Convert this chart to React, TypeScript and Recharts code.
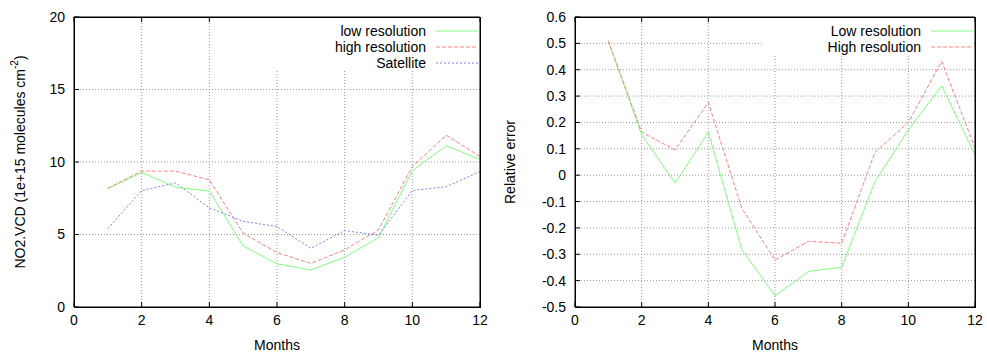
import { LineChart, Line, XAxis, YAxis, CartesianGrid, Legend } from 'recharts';

const months = [1, 2, 3, 4, 5, 6, 7, 8, 9, 10, 11, 12];

// left panel: NO2 VCD
const vcdLow = [8.17, 9.28, 8.26, 7.99, 4.21, 2.97, 2.55, 3.43, 4.79, 9.41, 11.12, 10.17];
const vcdHigh = [8.19, 9.37, 9.37, 8.77, 5.09, 3.75, 3.01, 3.94, 5.32, 9.69, 11.85, 10.38];
const vcdSat = [5.41, 8.03, 8.56, 6.84, 5.91, 5.55, 4.05, 5.27, 4.95, 8.03, 8.29, 9.34];

// right panel: relative error
const errLow = [0.508, 0.153, -0.03, 0.163, -0.281, -0.458, -0.365, -0.349, -0.024, 0.172, 0.339, 0.077];
const errHigh = [0.51, 0.163, 0.096, 0.276, -0.125, -0.322, -0.251, -0.258, 0.087, 0.2, 0.432, 0.103];

const xTicks = [0, 2, 4, 6, 8, 10, 12];
const vcdTicks = [0, 5, 10, 15, 20];
const errTicks = [-0.5, -0.4, -0.3, -0.2, -0.1, 0, 0.1, 0.2, 0.3, 0.4, 0.5, 0.6];
const xGrid = [2, 4, 6, 8, 10];
const vcdGrid = [5, 10, 15];
const errGrid = [-0.4, -0.3, -0.2, -0.1, 0, 0.1, 0.2, 0.3, 0.4, 0.5];

const seriesOrder = ['low resolution', 'high resolution', 'Satellite', 'Low resolution', 'High resolution'];

const GREEN = '#80ff80';
const RED = '#ff8080';
const BLUE = '#8080ff';
const FONT = '"Liberation Sans", Arial, sans-serif';

const vcdData = months.map((m, i) => ({ month: m, low: vcdLow[i], high: vcdHigh[i], sat: vcdSat[i] }));
const errData = months.map((m, i) => ({ month: m, low: errLow[i], high: errHigh[i] }));

const tickStyle = { fill: '#000', fontSize: 14, fontFamily: FONT };
const blank = () => '';

function KeyLegend({ payload }: any) {
  const items = [...(payload || [])].sort((a: any, b: any) => seriesOrder.indexOf(a.value) - seriesOrder.indexOf(b.value));
  return (
    <div style={{ background: '#fff', fontFamily: FONT, fontSize: 14, color: '#000', paddingTop: 5, height: '100%', boxSizing: 'border-box' }}>
      {items.map((p: any) => (
        <div key={p.value} style={{ display: 'flex', justifyContent: 'flex-end', alignItems: 'center', height: 16 }}>
          <span style={{ marginRight: 10 }}>{p.value}</span>
          <svg width={42} height={4} style={{ marginRight: 1 }}>
            <line x1={0} y1={2} x2={42} y2={2} stroke={p.color} strokeWidth={1}
              strokeDasharray={p.payload?.strokeDasharray} />
          </svg>
        </div>
      ))}
    </div>
  );
}

// plot frame (gnuplot border), drawn on top of the plot area
function Frame({ left, top, width, height }: { left: number; top: number; width: number; height: number }) {
  return (
    <div style={{ position: 'absolute', left, top, width, height, border: '1px solid #000', boxSizing: 'border-box', pointerEvents: 'none' }} />
  );
}

function YTitle({ left, children }: { left: number; children: any }) {
  return (
    <svg style={{ position: 'absolute', left, top: 0 }} width={30} height={353}>
      <text x={15} y={162} transform="rotate(-90, 15, 162)" textAnchor="middle" dominantBaseline="middle"
        fontSize={14} fontFamily={FONT} fill="#000">
        {children}
      </text>
    </svg>
  );
}

function XTitle({ center }: { center: number }) {
  return (
    <div style={{ position: 'absolute', left: center - 40, top: 337, width: 80, textAlign: 'center', fontFamily: FONT, fontSize: 14, lineHeight: '16px', color: '#000' }}>
      Months
    </div>
  );
}

const gridStroke = '#999';

export default function App() {
  return (
    <div style={{ position: 'absolute', left: 0, top: 0, width: 987, height: 353, background: '#fff', overflow: 'hidden' }}>
      <div style={{ position: 'absolute', left: 0, top: 0 }}>
        <LineChart width={490} height={353} data={vcdData} margin={{ top: 16, right: 9, bottom: 0, left: 0 }}>
          <CartesianGrid xAxisId="b" yAxisId="l" stroke={gridStroke} strokeDasharray="1 2" horizontalValues={vcdGrid} verticalValues={xGrid} />
          <XAxis xAxisId="b" dataKey="month" type="number" domain={[0, 12]} ticks={xTicks} height={46} stroke="#000"
            tick={tickStyle} tickSize={-5} tickMargin={13} />
          <XAxis xAxisId="t" orientation="top" dataKey="month" type="number" domain={[0, 12]} ticks={xTicks} height={1} stroke="#000"
            tickFormatter={blank} tickSize={-5} />
          <YAxis yAxisId="l" type="number" domain={[0, 20]} ticks={vcdTicks} width={74} stroke="#000"
            tick={tickStyle} tickSize={-5} tickMargin={14} />
          <YAxis yAxisId="r" orientation="right" type="number" domain={[0, 20]} ticks={vcdTicks} width={1} stroke="#000"
            tickFormatter={blank} tickSize={-5} />
          <Legend verticalAlign="middle" align="center" layout="horizontal" content={<KeyLegend />}
            wrapperStyle={{ top: 18, right: 11, left: 'auto', width: 230, height: 52 }} />
          <Line xAxisId="b" yAxisId="l" dataKey="low" name="low resolution" stroke={GREEN} strokeWidth={1} dot={false} isAnimationActive={false} />
          <Line xAxisId="b" yAxisId="l" dataKey="high" name="high resolution" stroke={RED} strokeWidth={1} strokeDasharray="4 2" dot={false} isAnimationActive={false} />
          <Line xAxisId="b" yAxisId="l" dataKey="sat" name="Satellite" stroke={BLUE} strokeWidth={1} strokeDasharray="2 2" dot={false} isAnimationActive={false} />
        </LineChart>
      </div>
      <div style={{ position: 'absolute', left: 490, top: 0 }}>
        <LineChart width={497} height={353} data={errData} margin={{ top: 16, right: 11, bottom: 0, left: 0 }}>
          <CartesianGrid xAxisId="b" yAxisId="l" stroke={gridStroke} strokeDasharray="1 2" horizontalValues={errGrid} verticalValues={xGrid} />
          <XAxis xAxisId="b" dataKey="month" type="number" domain={[0, 12]} ticks={xTicks} height={46} stroke="#000"
            tick={tickStyle} tickSize={-5} tickMargin={13} />
          <XAxis xAxisId="t" orientation="top" dataKey="month" type="number" domain={[0, 12]} ticks={xTicks} height={1} stroke="#000"
            tickFormatter={blank} tickSize={-5} />
          <YAxis yAxisId="l" type="number" domain={[-0.5, 0.6]} ticks={errTicks} width={85} stroke="#000"
            tick={tickStyle} tickSize={-5} tickMargin={14} />
          <YAxis yAxisId="r" orientation="right" type="number" domain={[-0.5, 0.6]} ticks={errTicks} width={1} stroke="#000"
            tickFormatter={blank} tickSize={-5} />
          <Legend verticalAlign="middle" align="center" layout="horizontal" content={<KeyLegend />}
            wrapperStyle={{ top: 18, right: 13, left: 'auto', width: 212, height: 37 }} />
          <Line xAxisId="b" yAxisId="l" dataKey="low" name="Low resolution" stroke={GREEN} strokeWidth={1} dot={false} isAnimationActive={false} />
          <Line xAxisId="b" yAxisId="l" dataKey="high" name="High resolution" stroke={RED} strokeWidth={1} strokeDasharray="4 2" dot={false} isAnimationActive={false} />
        </LineChart>
      </div>
      <Frame left={74} top={17} width={407} height={291} />
      <Frame left={575} top={17} width={401} height={291} />
      <YTitle left={6}>
        NO2.VCD (1e+15 molecules cm<tspan baseline-shift="super" fontSize={10}>-2</tspan>)
      </YTitle>
      <YTitle left={496}>Relative error</YTitle>
      <XTitle center={277} />
      <XTitle center={775} />
    </div>
  );
}
